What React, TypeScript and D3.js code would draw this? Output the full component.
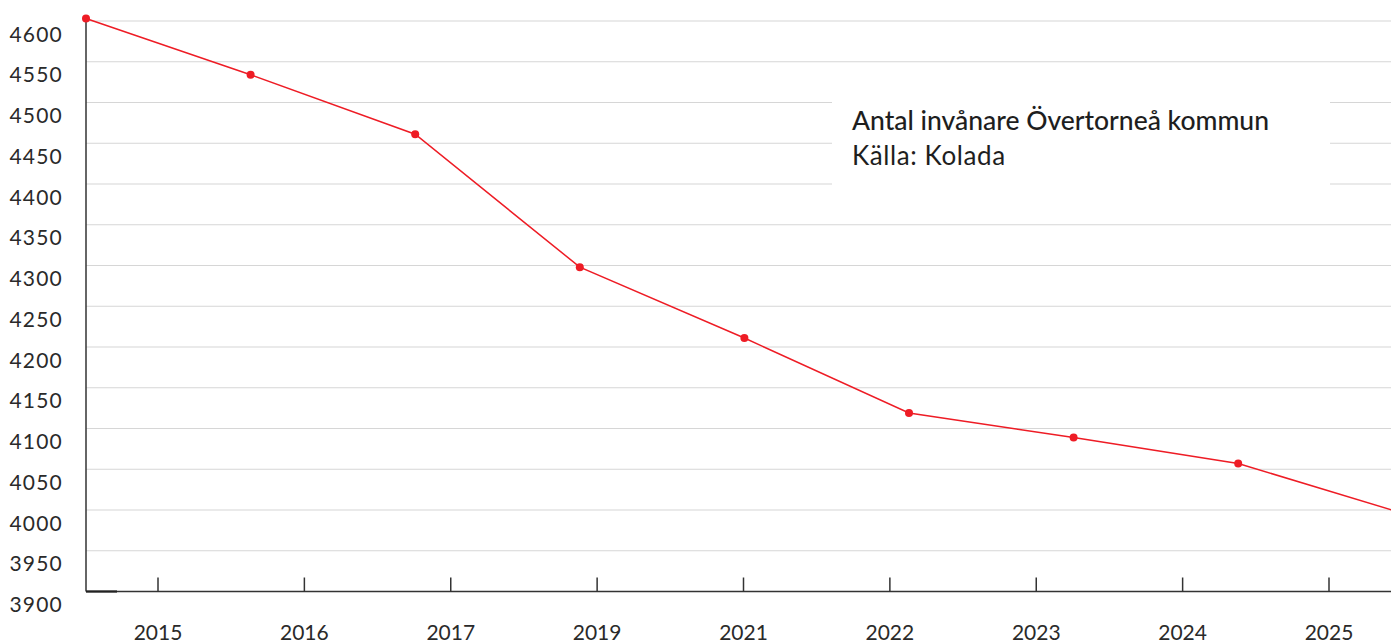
import React from "react";
import * as d3 from "d3";

const pointYears = ["2015", "2016", "2017", "2018", "2019", "2020", "2021", "2022", "2023"];
const population = [4603, 4534, 4461, 4298, 4211, 4119, 4089, 4057, 3996];
const xTickLabels = ["2015", "2016", "2017", "2019", "2021", "2022", "2023", "2024", "2025"];
const yTicks = [3900, 3950, 4000, 4050, 4100, 4150, 4200, 4250, 4300, 4350, 4400, 4450, 4500, 4550, 4600];
const title = "Antal invånare Övertorneå kommun";
const source = "Källa: Kolada";

const W = 1391;
const H = 642;
const FONT = "Lato, 'Open Sans', sans-serif";

export default function App() {
  const y = d3.scaleLinear().domain([3900, 4600]).range([591.5, 21]);
  const xPts = d3.scalePoint<string>().domain(pointYears).range([86, 86 + 8 * 164.6]);
  const xTicks = d3.scalePoint<string>().domain(xTickLabels).range([158, 1329]);
  const line = d3
    .line<number>()
    .x((_, i) => xPts(pointYears[i]) as number)
    .y((d) => y(d));

  return (
    <svg
      width={W}
      height={H}
      style={{ position: "absolute", left: 0, top: 0, background: "#fff" }}
      fontFamily={FONT}
    >
      {yTicks.slice(1).map((t) => (
        <line key={"g" + t} x1={86} x2={W} y1={y(t)} y2={y(t)} stroke="#d6d6d6" strokeWidth={1.2} />
      ))}
      {yTicks.map((t) => (
        <text key={"yl" + t} x={63} y={y(t) + 12} textAnchor="end" dominantBaseline="central" fontSize={21} letterSpacing={1.2} fill="#2a2a2a">
          {t}
        </text>
      ))}
      <rect x={832} y={72} width={498} height={122} fill="#fff" />
      <text x={852} y={130} fontSize={26.5} fontWeight={500} fill="#1e1e1e">{title}</text>
      <text x={852} y={165} fontSize={26} letterSpacing={0.6} fill="#1e1e1e">{source}</text>
      <line x1={86} x2={86} y1={y(4600) - 2} y2={y(3900)} stroke="#333" strokeWidth={1.5} />
      <line x1={86} x2={W} y1={y(3900)} y2={y(3900)} stroke="#333" strokeWidth={1.5} />
      <line x1={86} x2={117} y1={y(3900)} y2={y(3900)} stroke="#222" strokeWidth={2.2} />
      {xTickLabels.map((l) => (
        <g key={"xt" + l}>
          <line x1={xTicks(l)} x2={xTicks(l)} y1={y(3900) - 14} y2={y(3900)} stroke="#333" strokeWidth={1.5} />
          <text x={xTicks(l)} y={631} textAnchor="middle" dominantBaseline="central" fontSize={21} fill="#2a2a2a">
            {l}
          </text>
        </g>
      ))}
      <path d={line(population) || ""} fill="none" stroke="#ee1c25" strokeWidth={1.5} />
      {population.map((v, i) => (
        <circle key={"p" + i} cx={xPts(pointYears[i])} cy={y(v)} r={4} fill="#ee1c25" />
      ))}
    </svg>
  );
}
